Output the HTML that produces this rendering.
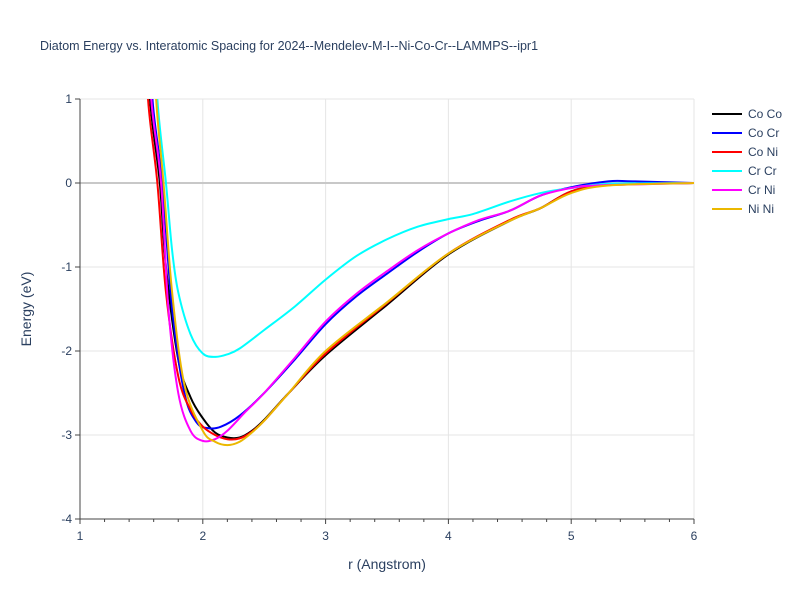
<!DOCTYPE html>
<html><head><meta charset="utf-8"><style>
body{margin:0;background:#fff;font-family:"Liberation Sans",sans-serif}
text{font-family:"Liberation Sans",sans-serif}
</style></head><body>
<svg id="chart" width="800" height="600">
<rect width="800" height="600" fill="#fff"/>
<text x="40" y="50" font-size="12.5" fill="#2a3f5f">Diatom Energy vs. Interatomic Spacing for 2024--Mendelev-M-I--Ni-Co-Cr--LAMMPS--ipr1</text>
<defs><clipPath id="plotclip"><rect x="80" y="99" width="614" height="420"/></clipPath></defs>
<g id="grid"></g>
<g id="series" clip-path="url(#plotclip)"></g>
<g id="axes"></g>
<text x="387" y="569" font-size="14" fill="#2a3f5f" text-anchor="middle">r (Angstrom)</text>
<text x="31" y="309" font-size="14" fill="#2a3f5f" text-anchor="middle" transform="rotate(-90 31 309)">Energy (eV)</text>
<g id="legend"></g>
</svg>
<script>
const seriesNames=["Co Co","Co Cr","Co Ni","Cr Cr","Cr Ni","Ni Ni"];
const seriesColors=["#000000","#0000ff","#ff0000","#00ffff","#ff00ff","#ebb800"];
const xTicks=[1,2,3,4,5,6];
const yTicks=[-4,-3,-2,-1,0,1];
const coCo=[[1.57,1],[1.65,0],[1.7,-1],[1.8,-2.1],[1.9,-2.55],[2.0,-2.8],[2.1,-2.97],[2.2,-3.03],[2.3,-3.03],[2.4,-2.95],[2.5,-2.82],[2.7,-2.5],[3.0,-2.05],[3.5,-1.45],[4.0,-0.85],[4.5,-0.45],[4.75,-0.3],[5.0,-0.1],[5.3,-0.02],[6,0]];
const coCr=[[1.59,1],[1.67,0],[1.75,-1.5],[1.85,-2.5],[1.95,-2.85],[2.05,-2.92],[2.15,-2.9],[2.3,-2.77],[2.5,-2.5],[2.75,-2.1],[3.0,-1.68],[3.25,-1.35],[3.5,-1.08],[3.75,-0.82],[4.0,-0.6],[4.25,-0.45],[4.5,-0.33],[4.75,-0.15],[5.0,-0.05],[5.3,0.02],[5.5,0.02],[6,0]];
const coNi=[[1.554,1],[1.63,0],[1.7,-1.3],[1.8,-2.3],[1.9,-2.7],[2.0,-2.9],[2.1,-3.0],[2.2,-3.05],[2.3,-3.04],[2.4,-2.96],[2.5,-2.83],[2.7,-2.5],[3.0,-2.03],[3.5,-1.43],[4.0,-0.84],[4.5,-0.44],[4.75,-0.3],[5.0,-0.1],[5.3,-0.02],[6,0]];
const crCr=[[1.63,1],[1.7,0],[1.75,-0.8],[1.8,-1.3],[1.9,-1.8],[2.0,-2.03],[2.1,-2.07],[2.2,-2.04],[2.3,-1.97],[2.5,-1.75],[2.75,-1.47],[3.0,-1.15],[3.25,-0.87],[3.5,-0.67],[3.75,-0.52],[4.0,-0.43],[4.2,-0.37],[4.5,-0.22],[4.75,-0.12],[5.0,-0.06],[5.3,-0.01],[6,0]];
const crNi=[[1.58,1],[1.66,0],[1.72,-1.5],[1.8,-2.5],[1.9,-2.95],[2.0,-3.07],[2.1,-3.05],[2.2,-2.95],[2.35,-2.72],[2.5,-2.5],[2.75,-2.08],[3.0,-1.65],[3.25,-1.32],[3.5,-1.05],[3.75,-0.8],[4.0,-0.6],[4.25,-0.44],[4.5,-0.33],[4.75,-0.15],[5.0,-0.06],[5.2,-0.03],[6,0]];
const niNi=[[1.62,1],[1.68,0],[1.75,-1.3],[1.85,-2.4],[2.0,-2.95],[2.1,-3.08],[2.2,-3.12],[2.3,-3.08],[2.4,-2.97],[2.5,-2.83],[2.7,-2.5],[3.0,-2.0],[3.5,-1.42],[4.0,-0.84],[4.5,-0.45],[4.75,-0.3],[5.0,-0.12],[5.3,-0.03],[6,0]];
const allSeries=[coCo,coCr,coNi,crCr,crNi,niNi];
const X0=80,X1=694,Y0=99,Y1=519,xmin=1,xmax=6,ymin=-4,ymax=1;
function sx(v){return X0+(v-xmin)/(xmax-xmin)*(X1-X0);}
function sy(v){return Y1-(v-ymin)/(ymax-ymin)*(Y1-Y0);}
const NS="http://www.w3.org/2000/svg";
function mk(tag,attrs,parent){const e=document.createElementNS(NS,tag);for(const k in attrs)e.setAttribute(k,attrs[k]);parent.appendChild(e);return e;}
const grid=document.getElementById('grid'),axes=document.getElementById('axes'),ser=document.getElementById('series'),leg=document.getElementById('legend');
xTicks.forEach(t=>{
  const l=mk('line',{x1:sx(t),x2:sx(t),y1:Y0,y2:Y1,stroke:'#e5e5e5','stroke-width':1},grid);
  
  
  const tx=mk('text',{x:sx(t),y:Y1+21,'font-size':12,fill:'#2a3f5f','text-anchor':'middle'},axes);
  tx.textContent=t;
  
  
});
yTicks.forEach(t=>{
  const l=mk('line',{x1:X0,x2:X1,y1:sy(t),y2:sy(t),stroke:t===0?'#c8c8c8':'#e5e5e5','stroke-width':t===0?2:1},grid);
  
  
  const tk=mk('line',{x1:X0-5,x2:X0,y1:sy(t),y2:sy(t),stroke:'#444'},axes);
  
  
  const tx=mk('text',{x:X0-8,y:sy(t)+4,'font-size':12,fill:'#2a3f5f','text-anchor':'end'},axes);
  tx.textContent=t;
  
  
});
const xa=mk('line',{x1:X0,x2:X1,y1:Y1,y2:Y1,stroke:'#444','stroke-width':1},axes);


const ya=mk('line',{x1:X0,x2:X0,y1:Y0,y2:Y1,stroke:'#444','stroke-width':1},axes);


for(let v=1;v<=6.001;v+=0.2){const tk=mk('line',{x1:sx(v),x2:sx(v),y1:Y1,y2:Y1+(Math.abs(v-Math.round(v))<0.01?5:3),stroke:'#444'},axes);

}
function pathFor(pts){
  const p=pts.map(d=>[sx(d[0]),sy(d[1])]);
  let s='M'+p[0][0]+','+p[0][1];
  for(let i=0;i<p.length-1;i++){
    const a=p[Math.max(0,i-1)],b=p[i],c=p[i+1],d=p[Math.min(p.length-1,i+2)];
    const c1=[b[0]+(c[0]-a[0])/6,b[1]+(c[1]-a[1])/6],c2=[c[0]-(d[0]-b[0])/6,c[1]-(d[1]-b[1])/6];
    s+=' C'+c1+' '+c2+' '+c;
  }
  return s;
}
allSeries.forEach((pts,i)=>{
  const top=[[pts[0][0]-0.03,pts[0][1]+1.2]].concat(pts);
  const p=mk('path',{d:pathFor(top),fill:'none',stroke:seriesColors[i],'stroke-width':2},ser);
  
  
  const y=114+i*19;
  const g=mk('g',{},leg);
  
  
  mk('line',{x1:712,x2:742,y1:y,y2:y,stroke:seriesColors[i],'stroke-width':2},g);
  const t=mk('text',{x:748,y:y+4,'font-size':12,fill:'#2a3f5f'},g);
  t.textContent=seriesNames[i];
});
</script>
</body></html>
